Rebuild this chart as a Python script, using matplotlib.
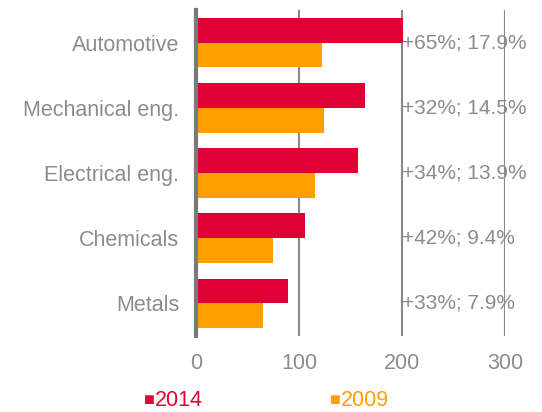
import matplotlib.pyplot as plt
import numpy as np

# data
categories = ["Automotive", "Mechanical eng.", "Electrical eng.", "Chemicals", "Metals"]
values_2014 = [201, 164, 157, 106, 89]
values_2009 = [122, 124, 116, 75, 65]
bar_labels = ["+65%; 17.9%", "+32%; 14.5%", "+34%; 13.9%", "+42%; 9.4%", "+33%; 7.9%"]
series_names = ["2014", "2009"]
xticks = [0, 100, 200, 300]

red = "#E00034"
orange = "#FFA000"
grey = "#8C8C8C"

plt.rcParams['font.family'] = ['Liberation Sans', 'DejaVu Sans']

fig = plt.figure(figsize=(5.42, 4.12), dpi=100)
ax = fig.add_axes([0.3616, 0.1845, 0.570, 0.791])

y = np.arange(len(categories))
h = 0.38
ax.barh(y - h / 2, values_2014, height=h, color=red, zorder=3)
ax.barh(y + h / 2, values_2009, height=h, color=orange, zorder=3)

# value labels
for yi, lab in zip(y, bar_labels):
    ax.text(200, yi, lab, ha='left', va='center', fontsize=15, color=grey, zorder=4)

ax.set_xlim(0, 300)
ax.set_ylim(len(categories) - 0.5, -0.5)
ax.set_yticks(y)
ax.set_yticklabels(categories, fontsize=15.5, color=grey)
ax.set_xticks(xticks)
ax.set_xticklabels([str(t) for t in xticks], fontsize=15.5, color=grey)
ax.tick_params(length=0)
ax.tick_params(axis='y', pad=12)
ax.tick_params(axis='x', pad=12)

for t in xticks[1:]:
    ax.axvline(t, color='#888888', lw=1.5, zorder=1)

for s in ['top', 'right', 'bottom']:
    ax.spines[s].set_visible(False)
ax.spines['left'].set_color('#7a7a7a')
ax.spines['left'].set_linewidth(3)
ax.spines['left'].set_zorder(5)

# legend
fig.text(144 / 542, 1 - 401 / 412, "■", color=red, fontsize=13, va='center', ha='left')
fig.text(155 / 542, 1 - 400 / 412, series_names[0], color=red, fontsize=15.5, va='center', ha='left')
fig.text(330 / 542, 1 - 401 / 412, "■", color=orange, fontsize=13, va='center', ha='left')
fig.text(341 / 542, 1 - 400 / 412, series_names[1], color=orange, fontsize=15.5, va='center', ha='left')

fig.savefig("out.png", dpi=100)
